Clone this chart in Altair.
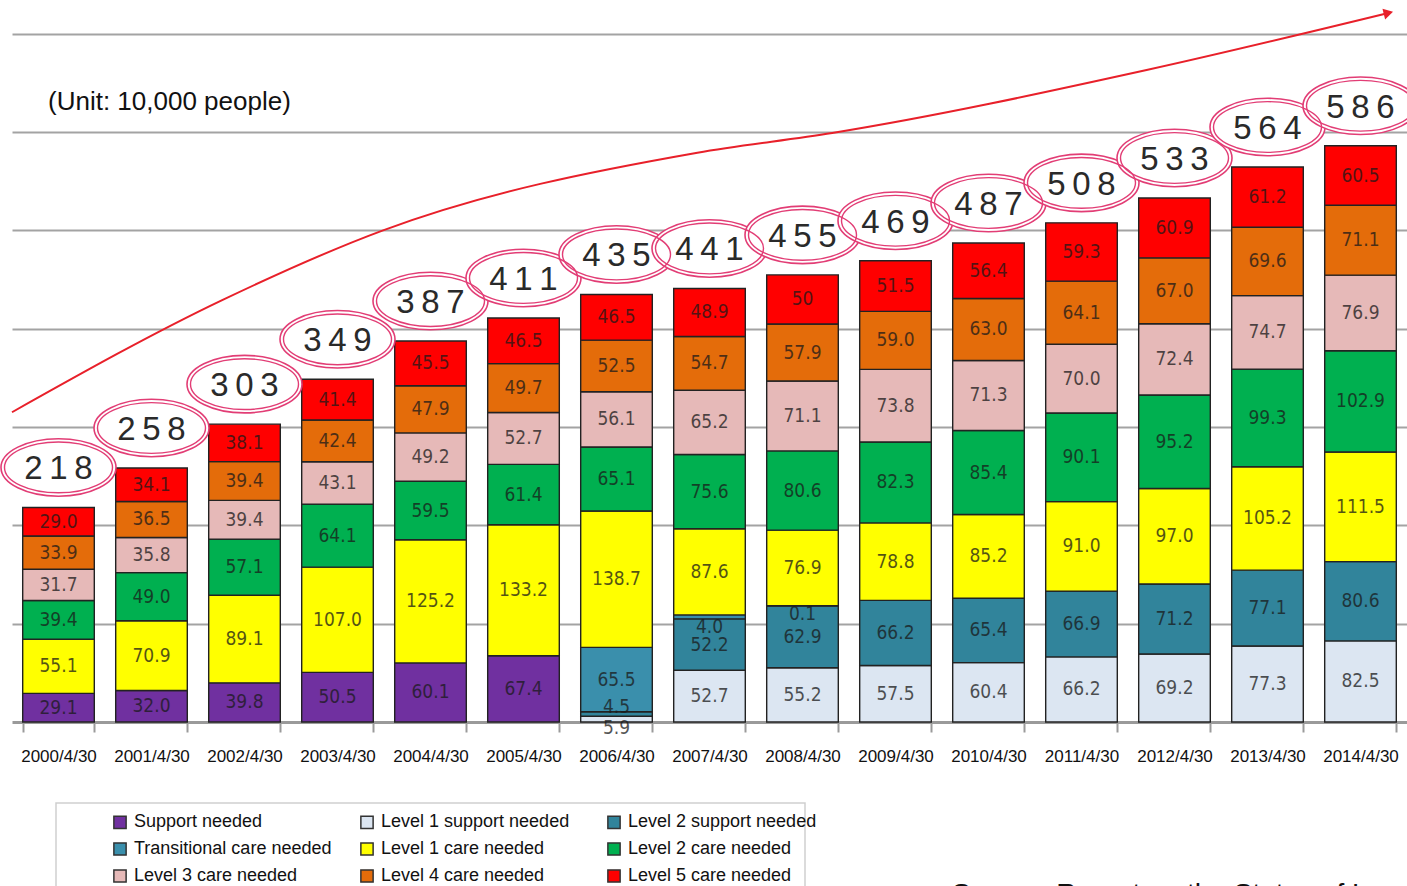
import altair as alt
import pandas as pd

# Survey dates (end of April each year)
years = ["2000/4/30", "2001/4/30", "2002/4/30", "2003/4/30", "2004/4/30",
         "2005/4/30", "2006/4/30", "2007/4/30", "2008/4/30", "2009/4/30",
         "2010/4/30", "2011/4/30", "2012/4/30", "2013/4/30", "2014/4/30"]

categories = ["Support needed", "Level 1 support needed", "Level 2 support needed",
              "Transitional care needed", "Level 1 care needed", "Level 2 care needed",
              "Level 3 care needed", "Level 4 care needed", "Level 5 care needed"]
colors = ["#7030A0", "#DCE6F2", "#31849B", "#3A8FAC", "#FFFF00",
          "#00B050", "#E6B9B8", "#E46C0A", "#FF0000"]

# Legend fills its three columns top-down, so list entries column by column
legend_order = ["Support needed", "Transitional care needed", "Level 3 care needed",
                "Level 1 support needed", "Level 1 care needed", "Level 4 care needed",
                "Level 2 support needed", "Level 2 care needed", "Level 5 care needed"]

# Certified persons by care level (unit: 10,000 people); None = category not in use
support_needed = [29.1, 32.0, 39.8, 50.5, 60.1, 67.4, None, None, None, None, None, None, None, None, None]
level1_support = [None, None, None, None, None, None, 5.9, 52.7, 55.2, 57.5, 60.4, 66.2, 69.2, 77.3, 82.5]
level2_support = [None, None, None, None, None, None, 4.5, 52.2, 62.9, 66.2, 65.4, 66.9, 71.2, 77.1, 80.6]
transitional = [None, None, None, None, None, None, 65.5, 4.0, 0.1, None, None, None, None, None, None]
level1_care = [55.1, 70.9, 89.1, 107.0, 125.2, 133.2, 138.7, 87.6, 76.9, 78.8, 85.2, 91.0, 97.0, 105.2, 111.5]
level2_care = [39.4, 49.0, 57.1, 64.1, 59.5, 61.4, 65.1, 75.6, 80.6, 82.3, 85.4, 90.1, 95.2, 99.3, 102.9]
level3_care = [31.7, 35.8, 39.4, 43.1, 49.2, 52.7, 56.1, 65.2, 71.1, 73.8, 71.3, 70.0, 72.4, 74.7, 76.9]
level4_care = [33.9, 36.5, 39.4, 42.4, 47.9, 49.7, 52.5, 54.7, 57.9, 59.0, 63.0, 64.1, 67.0, 69.6, 71.1]
level5_care = [29.0, 34.1, 38.1, 41.4, 45.5, 46.5, 46.5, 48.9, 50, 51.5, 56.4, 59.3, 60.9, 61.2, 60.5]

# Rounded totals shown in the circles
totals = [218, 258, 303, 349, 387, 411, 435, 441, 455, 469, 487, 508, 533, 564, 586]

# Growth trend arrow (position along the year axis, value)
trend_t = [1999.5, 2001.76, 2003.49, 2006.87, 2008.32, 2011.70, 2014.30]
trend_v = [315, 429, 500, 579, 599, 663, 721]

series = [support_needed, level1_support, level2_support, transitional, level1_care,
          level2_care, level3_care, level4_care, level5_care]

# Label positions (in value units) for segments too thin to hold their own label
label_at = {("2006/4/30", "Level 1 support needed"): -6.5,
            ("2006/4/30", "Level 2 support needed"): 15.0,
            ("2007/4/30", "Transitional care needed"): 96.5,
            ("2008/4/30", "Transitional care needed"): 110.0}

rows = []
for i, yr in enumerate(years):
    base = 0.0
    for cat, vals in zip(categories, series):
        v = vals[i]
        if v is None:
            continue
        label = str(v) if isinstance(v, int) else f"{v:.1f}"
        rows.append({"year": yr, "cat": cat, "order": categories.index(cat),
                     "start": base, "end": base + v,
                     "pos": label_at.get((yr, cat), base + v / 2),
                     "label": label})
        base += v
seg = pd.DataFrame(rows)

tops = seg.groupby("year", sort=False)["end"].max().reindex(years).values
tot = pd.DataFrame({"year": years, "top": tops,
                    "text": ["\u2009".join(str(t)) for t in totals]})
trend = pd.DataFrame({"t": trend_t, "v": trend_v})
tip = trend.tail(1)

x_band = alt.X("year:N", sort=years,
               scale=alt.Scale(paddingInner=0.23, paddingOuter=0.115),
               axis=alt.Axis(title=None, labelAngle=0, tickBand="extent",
                             tickSize=10, tickWidth=2, tickColor="#9a9a9a",
                             domainColor="#9a9a9a", domainWidth=3,
                             labelFont="Liberation Sans", labelFontSize=17,
                             labelColor="#111111", labelPadding=16, grid=False))
y_scale = alt.Scale(domain=[0, 720], nice=False, zero=True)

bars = alt.Chart(seg).mark_bar(stroke="#222222", strokeWidth=1.4).encode(
    x=x_band,
    y=alt.Y("start:Q", scale=y_scale,
            axis=alt.Axis(values=[100, 200, 300, 400, 500, 600, 700], grid=True,
                          gridColor="#a3a3a3", gridWidth=2, labels=False,
                          ticks=False, domain=False, title=None)),
    y2="end:Q",
    color=alt.Color("cat:N", sort=categories,
                    scale=alt.Scale(domain=categories, range=colors),
                    legend=alt.Legend(title=None, orient="none", legendX=99,
                                      legendY=799, columns=3, values=legend_order,
                                      symbolType="square",
                                      symbolSize=150, symbolStrokeColor="#333333",
                                      symbolStrokeWidth=1.5,
                                      labelFont="Liberation Sans", labelFontSize=18,
                                      labelColor="#111111", columnPadding=25,
                                      rowPadding=7, gridAlign="all", labelOffset=5,
                                      padding=0, labelLimit=400)),
    order=alt.Order("order:Q"),
)

seg_labels = alt.Chart(seg).mark_text(
    font="Liberation Sans Narrow, DejaVu Sans Condensed, sans-serif",
    fontSize=19, color="#1a1a1a", opacity=0.75, baseline="middle",
).encode(
    x=alt.X("year:N", sort=years),
    y=alt.Y("pos:Q", scale=y_scale),
    text="label:N",
)

ellipse_outer = "M -1 0 A 1 0.5 0 1 1 1 0 A 1 0.5 0 1 1 -1 0 Z"
ellipse_inner = "M -1 0 A 1 0.47 0 1 1 1 0 A 1 0.47 0 1 1 -1 0 Z"

circ_outer = alt.Chart(tot).mark_point(
    shape=ellipse_outer, size=13225, filled=True, fill="white",
    stroke="#E23D75", strokeWidth=1.6, opacity=1,
).encode(x=alt.X("year:N", sort=years), y=alt.Y("top:Q", scale=y_scale),
         yOffset=alt.value(-40))

circ_inner = alt.Chart(tot).mark_point(
    shape=ellipse_inner, size=11664, filled=False,
    stroke="#E23D75", strokeWidth=1.4, opacity=1,
).encode(x=alt.X("year:N", sort=years), y=alt.Y("top:Q", scale=y_scale),
         yOffset=alt.value(-40))

tot_text = alt.Chart(tot).mark_text(
    font="Liberation Sans", fontSize=33, color="#2a2a2a", baseline="middle", dy=-38,
).encode(x=alt.X("year:N", sort=years), y=alt.Y("top:Q", scale=y_scale), text="text:N")

x_trend = alt.X("t:Q", scale=alt.Scale(domain=[1999.5, 2014.5], nice=False, zero=False),
                axis=None)
trend_line = alt.Chart(trend).mark_line(
    color="#E8202A", strokeWidth=2, interpolate="monotone", clip=False,
).encode(x=x_trend, y=alt.Y("v:Q", scale=y_scale))
trend_tip = alt.Chart(tip).mark_point(
    shape="triangle-right", filled=True, color="#E8202A", size=120, angle=346, opacity=1,
).encode(x=x_trend, y=alt.Y("v:Q", scale=y_scale))

unit_note = alt.Chart(pd.DataFrame({"t": ["(Unit: 10,000 people)"]})).mark_text(
    font="Liberation Sans", fontSize=26, color="#111111", align="left", baseline="middle",
).encode(x=alt.value(36), y=alt.value(88), text="t:N")

legend_box = alt.Chart(pd.DataFrame({"k": [0]})).mark_rect(
    fill=None, stroke="#cfcfcf", strokeWidth=1.5,
).encode(x=alt.value(44), x2=alt.value(793), y=alt.value(789), y2=alt.value(900))

source_note = alt.Chart(pd.DataFrame({"t": ["Source: Report on the Status of Long-Term Care Insurance Services"]})).mark_text(
    font="Liberation Sans", fontSize=28, color="#111111", align="left", baseline="alphabetic",
).encode(x=alt.value(940), y=alt.value(889), text="t:N")

band_layer = alt.layer(legend_box, bars, seg_labels, circ_outer, circ_inner, tot_text,
                       unit_note, source_note)
chart = alt.layer(band_layer, trend_line, trend_tip).resolve_scale(x="independent").properties(
    width=1395, height=708,
    padding={"left": 12, "top": 14, "right": 0, "bottom": 164},
    autosize=alt.AutoSizeParams(type="none"),
    background="white",
).configure_view(stroke=None)

chart.save("out.html", embed_options={"renderer": "svg", "actions": False})
